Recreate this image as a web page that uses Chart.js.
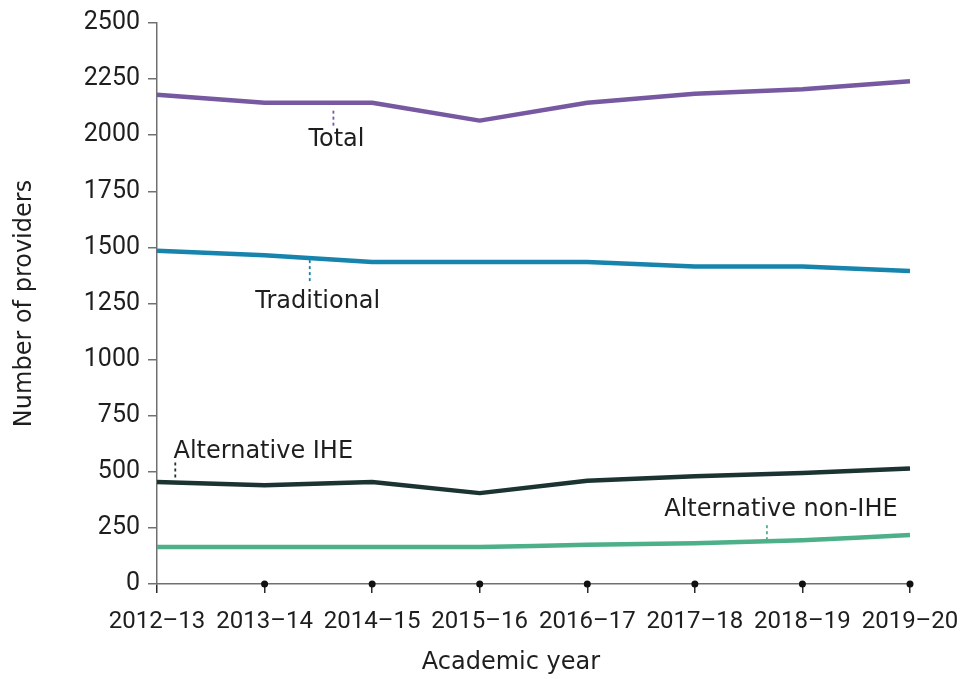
<!DOCTYPE html>
<html>
<head>
<meta charset="utf-8">
<script src="https://cdn.jsdelivr.net/npm/chart.js@4"></script>
<style>
  html, body { margin: 0; padding: 0; background: #fff; }
  #wrap { width: 962px; height: 679px; }
</style>
</head>
<body>
<div id="wrap"><canvas id="providersChart" width="962" height="679"></canvas></div>
<script>
const years = ['2012–13', '2013–14', '2014–15', '2015–16', '2016–17', '2017–18', '2018–19', '2019–20'];
const total = [2180, 2145, 2145, 2065, 2145, 2185, 2205, 2240];
const traditional = [1485, 1465, 1435, 1435, 1435, 1415, 1415, 1395];
const altIHE = [455, 440, 455, 405, 460, 480, 495, 515];
const altNonIHE = [165, 165, 165, 165, 175, 182, 195, 218];
const yTicks = [0, 250, 500, 750, 1000, 1250, 1500, 1750, 2000, 2250, 2500];

const seriesNames = ['Total', 'Traditional', 'Alternative IHE', 'Alternative non-IHE'];
const seriesColors = ['#7659a1', '#1684ac', '#1c3431', '#4db088'];

const axisGrey = '#707070';
const labelFont = '"DejaVu Sans", sans-serif';
const tickFont = 'Roboto, "DejaVu Sans", sans-serif';

// inline labels: where along the x axis the leader sits, and text offset from the line
const callouts = [
  { series: 0, at: 1.64, lead: [8, 24], dx: 3, dy: 37 },
  { series: 1, at: 1.42, lead: [2, 26], dx: 8, dy: 44 },
  { series: 2, at: 0.17, lead: [-20, -4], dx: 88, dy: -31 },
  { series: 3, at: 5.67, lead: [-16, -1], dx: 14, dy: -31 }
];

function valueAt(data, at) {
  const i = Math.floor(at);
  const f = at - i;
  if (i >= data.length - 1) return data[data.length - 1];
  return data[i] + (data[i + 1] - data[i]) * f;
}

const allSeries = [total, traditional, altIHE, altNonIHE];

const extrasPlugin = {
  id: 'extras',
  afterDatasetsDraw(chart) {
    const { ctx, scales: { x, y } } = chart;
    ctx.save();

    // dots on the x axis at each year except the first
    ctx.fillStyle = '#111';
    for (let i = 1; i < years.length; i++) {
      ctx.beginPath();
      ctx.arc(x.getPixelForValue(i), y.getPixelForValue(0), 3.5, 0, Math.PI * 2);
      ctx.fill();
    }

    // series labels with short dashed leaders
    ctx.font = '24px ' + labelFont;
    ctx.textAlign = 'center';
    ctx.textBaseline = 'middle';
    callouts.forEach(c => {
      const px = x.getPixelForValue(c.at);
      const py = y.getPixelForValue(valueAt(allSeries[c.series], c.at));
      ctx.strokeStyle = seriesColors[c.series];
      ctx.lineWidth = 1.8;
      ctx.setLineDash([3, 3]);
      ctx.beginPath();
      ctx.moveTo(px, py + c.lead[0]);
      ctx.lineTo(px, py + c.lead[1]);
      ctx.stroke();
      ctx.setLineDash([]);
      ctx.fillStyle = '#1e1e1e';
      ctx.fillText(seriesNames[c.series], px + c.dx, py + c.dy);
    });

    // x axis title
    ctx.fillStyle = '#1e1e1e';
    ctx.fillText('Academic year', 511, 663);
    ctx.restore();
  }
};

new Chart(document.getElementById('providersChart'), {
  type: 'line',
  data: {
    labels: years,
    datasets: allSeries.map((d, i) => ({
      label: seriesNames[i],
      data: d,
      borderColor: seriesColors[i],
      backgroundColor: seriesColors[i],
      borderWidth: 4.5,
      pointRadius: 0,
      tension: i === 3 ? 0.25 : 0,
      borderJoinStyle: 'round'
    }))
  },
  options: {
    responsive: false,
    animation: false,
    layout: { padding: { top: 21, right: 52, left: 0, bottom: 0 } },
    plugins: { legend: { display: false }, tooltip: { enabled: false } },
    scales: {
      x: {
        offset: false,
        afterFit(scale) {
          scale.height = 95;
          // let the layout padding alone decide the right edge
          scale.paddingLeft = 0;
          scale.paddingRight = 0;
        },
        border: { display: true, color: axisGrey, width: 1.5 },
        grid: { drawOnChartArea: false, drawTicks: true, tickLength: 9, color: '#2a2a2a', lineWidth: 1.5 },
        ticks: { color: '#1e1e1e', font: { family: tickFont, size: 24 }, padding: 15, maxRotation: 0, autoSkip: false }
      },
      y: {
        min: 0,
        max: 2500,
        afterFit(scale) { scale.width = 157; },
        afterBuildTicks(scale) { scale.ticks = yTicks.map(v => ({ value: v })); },
        border: { display: true, color: axisGrey, width: 1.5 },
        grid: { drawOnChartArea: false, drawTicks: true, tickLength: 9, color: axisGrey, lineWidth: 1.5 },
        ticks: {
          color: '#1e1e1e',
          font: { family: tickFont, size: 25 },
          padding: 8,
          callback: v => String(v)
        },
        title: {
          display: true,
          text: 'Number of providers',
          color: '#1e1e1e',
          font: { family: labelFont, size: 24 },
          padding: { top: 10, bottom: 4 }
        }
      }
    }
  },
  plugins: [extrasPlugin]
});
</script>
</body>
</html>
